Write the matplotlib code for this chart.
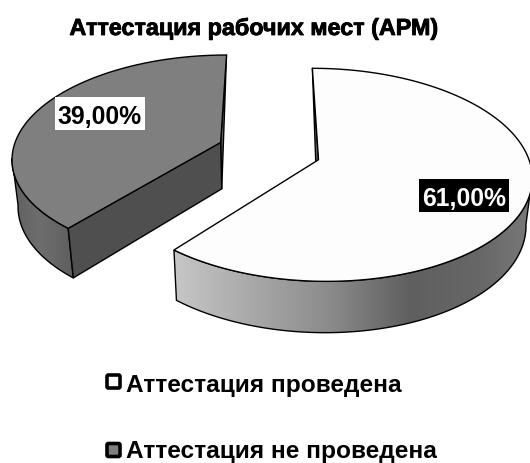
import numpy as np
import matplotlib
matplotlib.use('Agg')
import matplotlib.pyplot as plt
import matplotlib.patheffects as pe
from matplotlib.colors import LinearSegmentedColormap
from matplotlib.patches import Polygon, Rectangle, FancyBboxPatch

title = 'Аттестация рабочих мест (АРМ)'
labels = ['Аттестация проведена', 'Аттестация не проведена']
values = [61.0, 39.0]
top_colors = ['#fdfdfd', '#7f7f7f']
front_wall = '#4f4f4f'
back_wall = '#666666'
label_boxes = ['black', 'white']
label_text = ['white', 'black']

plt.rcParams['font.family'] = ['Liberation Sans', 'DejaVu Sans']

# rim gradients, left to right
rim_stops = [
    [(170, '#c8c8c8'), (250, '#a9a9a9'), (330, '#8b8b8b'), (410, '#5f5f5f'), (480, '#676767'), (535, '#7a7a7a')],
    [(5, '#5c5c5c'), (40, '#6e6e6e'), (82, '#5a5a5a')],
]


def project(u, v, z=0.0):
    # perspective of the pie plane, in image pixels
    w = 1 + 0.14 * v + 0.0236 * z
    return 269 + 208 * u / w, -576 + (728 + 65 * z) / w


def to_xy(pts, z=0.0):
    x, y = project(pts[:, 0], pts[:, 1], z)
    return np.column_stack([x, y])


fig = plt.figure(figsize=(5.3, 4.64), dpi=100)
ax = fig.add_axes([0, 0, 1, 1])
ax.axis('off')

start = 90.0
explode = 0.25
lw = 1.0
for i, val in enumerate(values):
    sweep = val / sum(values) * 360
    # first slice runs clockwise from the top, second one closes the circle
    a0, a1 = start - sweep, start
    if i == 1:
        a0, a1 = start - 360, start - values[0] / sum(values) * 360
    mid = np.radians((a0 + a1) / 2)
    c = np.array([explode * np.cos(mid), explode * np.sin(mid)])
    th = np.radians(np.linspace(a0, a1, 400))
    arc = c + np.column_stack([np.cos(th), np.sin(th)])

    top_arc = to_xy(arc)
    bot_arc = to_xy(arc, 1)
    apex_t = to_xy(c[None, :])
    apex_b = to_xy(c[None, :], 1)

    # the wall at the top of the pie only shows as a thin sliver
    back = -1 if i == 0 else 0
    ax.add_patch(Polygon([apex_t[0], top_arc[back], apex_b[0]], closed=True, fc=back_wall, ec='black', lw=lw,
                         joinstyle='round', zorder=2 + i))

    # wall of the cut facing the viewer
    if i == 1:
        ax.add_patch(Polygon([apex_t[0], top_arc[-1], bot_arc[-1], apex_b[0]], closed=True, fc=front_wall,
                             ec='black', lw=lw, joinstyle='round', zorder=2.15 + i))

    # outer wall with gradient, only the part in front
    front = np.sin(th) < -0.15
    rim = np.vstack([top_arc[front], bot_arc[front][::-1]])
    stops = rim_stops[i]
    x0, x1 = stops[0][0], stops[-1][0]
    cmap = LinearSegmentedColormap.from_list('rim', [((s[0] - x0) / (x1 - x0), s[1]) for s in stops])
    im = ax.imshow(np.linspace(0, 1, 256)[None, :], cmap=cmap, extent=[x0, x1, 464, 0], aspect='auto', zorder=2 + i)
    rim_patch = Polygon(rim, closed=True, fc='none', ec='black', lw=lw, zorder=2.1 + i)
    ax.add_patch(rim_patch)
    im.set_clip_path(rim_patch)

    # top surface
    ax.add_patch(Polygon(np.vstack([apex_t, top_arc]), closed=True, fc=top_colors[i], ec='black', lw=lw,
                         joinstyle='round', zorder=2.2 + i))

# value labels
label_pos = [(464, 196.5), (100, 114.5)]
for i, val in enumerate(values):
    cx, cy = label_pos[i]
    ax.add_patch(Rectangle((cx - 45, cy - 16.5), 90, 33, fc=label_boxes[i], ec='none', zorder=6))
    ax.text(cx, cy, f'{val:.2f}%'.replace('.', ','), color=label_text[i], fontsize=17.8, fontweight='bold',
            ha='center', va='center_baseline', zorder=7)

ax.text(254, 27, title, fontsize=16.8, fontweight='bold', ha='center', va='center_baseline', color='black',
        path_effects=[pe.withStroke(linewidth=0.6, foreground='black')])

# legend
legend_y = [382.5, 451]
text_y = [392, 458]
for i, name in enumerate(labels):
    ax.add_patch(FancyBboxPatch((107, legend_y[i] - 6.5), 13, 13, boxstyle='round,pad=0,rounding_size=1.5',
                                fc=top_colors[i], ec='black', lw=2.6, zorder=5))
    ax.text(126, text_y[i], name, fontsize=17.6, fontweight='bold', ha='left', va='baseline', color='black')

ax.set_xlim(0, 530)
ax.set_ylim(464, 0)
fig.savefig('out.png', dpi=100)
